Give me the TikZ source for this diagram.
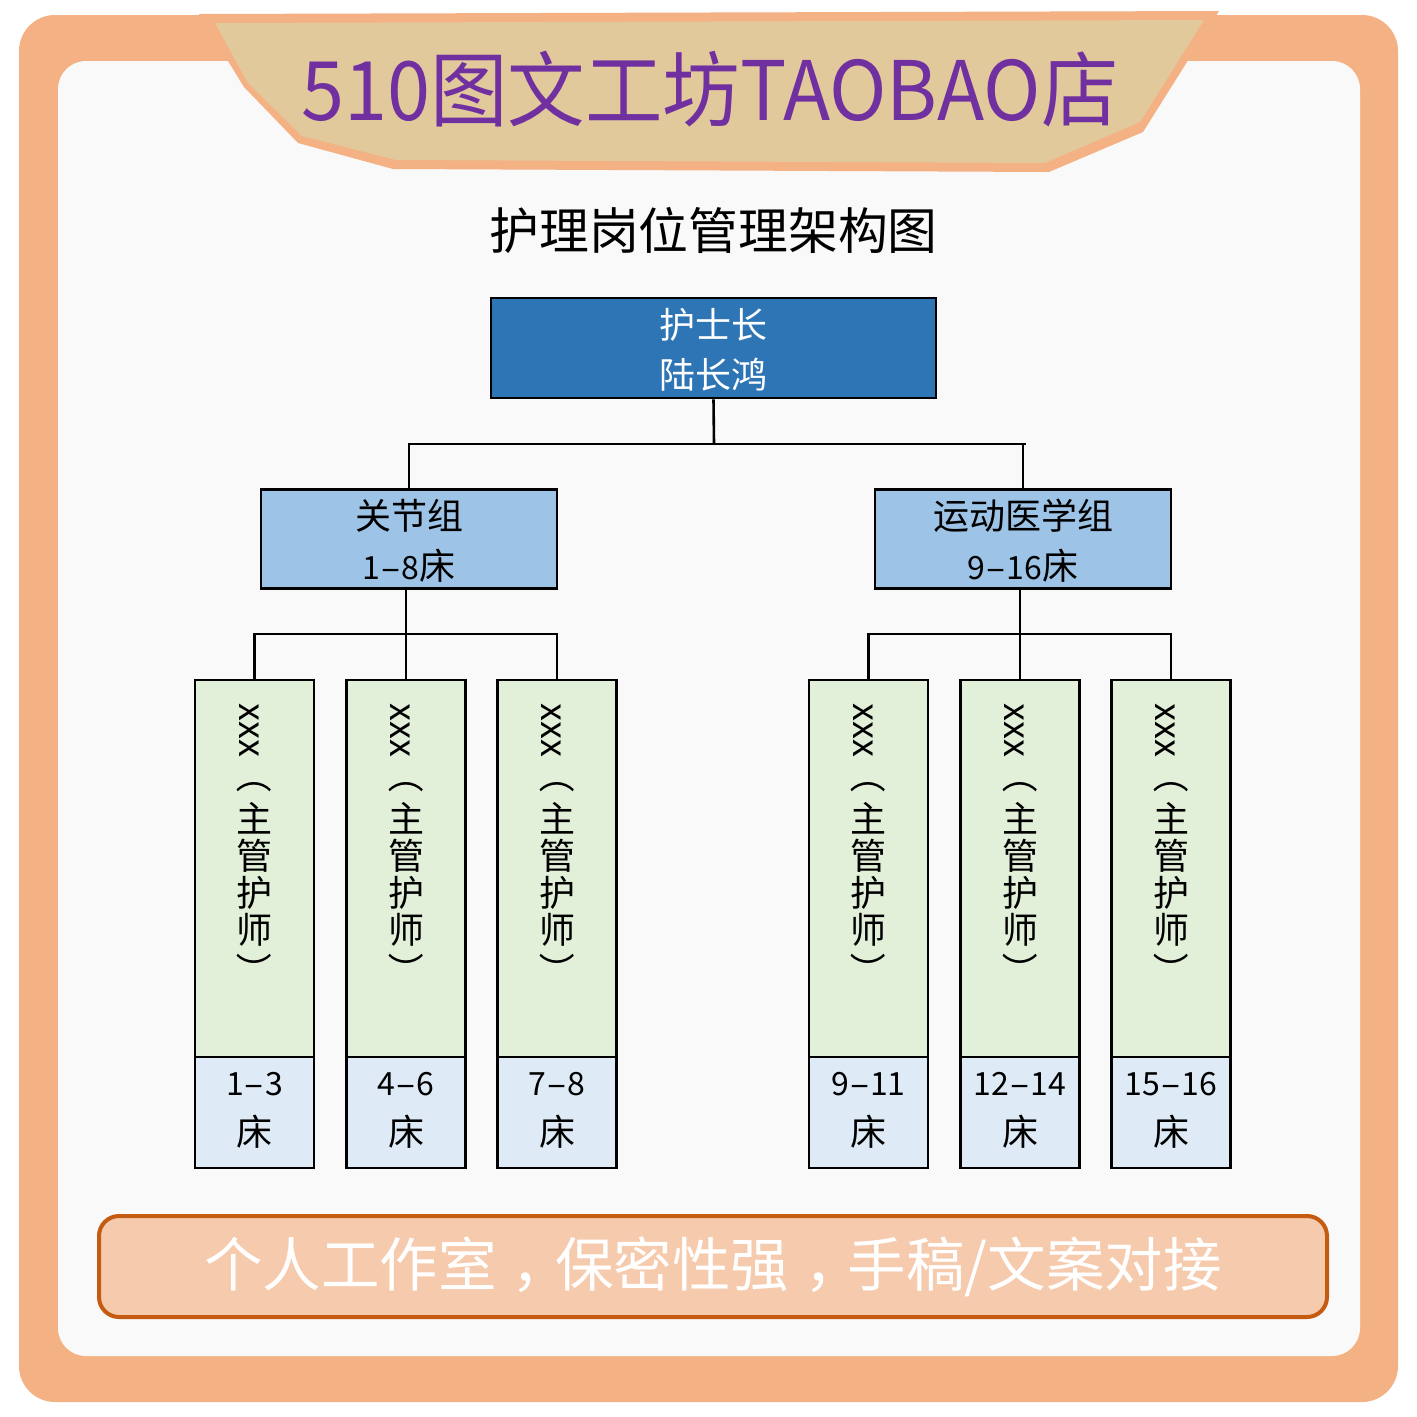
\documentclass[tikz,border=0pt]{standalone}
\usepackage{fontspec}
\usepackage{graphicx}
\setmainfont{Noto Sans CJK SC}
\newfontfamily\bannerfont[FakeStretch=0.945]{Noto Sans CJK SC}
\usetikzlibrary{positioning,calc}
\definecolor{frameC}{HTML}{F4B183}
\definecolor{paperC}{HTML}{F9F9F9}
\definecolor{tanC}{HTML}{E2C99C}
\definecolor{purpleC}{HTML}{7030A0}
\definecolor{blueC}{HTML}{2E75B6}
\definecolor{midC}{HTML}{9DC3E6}
\definecolor{greenC}{HTML}{E2F0D9}
\definecolor{paleC}{HTML}{DEEBF7}
\definecolor{noteC}{HTML}{F6CAAC}
\definecolor{noteL}{HTML}{C55A11}
\tikzset{
  boxbase/.style={draw=black,line width=2.6pt,inner sep=0pt,align=center,font=\fontsize{36}{50}\selectfont,text=black},
  headbox/.style={boxbase,fill=blueC,text=white,minimum width=445,minimum height=100},
  groupbox/.style={boxbase,fill=midC,minimum width=296,minimum height=99},
  namebox/.style={boxbase,fill=greenC,minimum width=119,minimum height=377},
  bedbox/.style={boxbase,fill=paleC,minimum width=119,minimum height=111},
  vlabel/.style={inner sep=0pt,align=center,anchor=north,font=\fontsize{36}{37}\selectfont,text=black},
  wire/.style={draw=black,line width=2.6pt},
}
\newcommand{\dg}[2]{{\fontsize{32}{50}\selectfont #1\scalebox{1.9}[1]{-}#2}}
\newcommand{\lowgap}{\rule{0pt}{34pt}}
\newcommand{\upgap}{\rule[-8pt]{0pt}{0pt}}
\newcommand{\vtxt}{\makebox[0pt]{\hspace{-11pt}\raisebox{-6pt}[37pt][0pt]{\rotatebox[origin=c]{-90}{xxx}}}\\[18pt]\rotatebox[origin=c]{-90}{（}\\[6pt]主\\管\\护\\师\\[4pt]\rotatebox[origin=c]{-90}{）}}
\begin{document}
\begin{tikzpicture}[x=1pt,y=-1pt]
\useasboundingbox (0,0) rectangle (1417,1417);
\fill[white] (0,0) rectangle (1417,1417);
\fill[frameC,rounded corners=36] (19,15) rectangle (1398,1402);
\fill[paperC,rounded corners=28] (58,61) rectangle (1360,1356);
\fill[frameC] (199,14) -- (1219,11) -- (1143,132) -- (1049,172) -- (393,169) -- (298,143) -- (244,87) -- cycle;
\fill[tanC] (215,23) -- (1204,20) -- (1140,122) -- (1045,163) -- (396,160) -- (302,136) -- (248,83) -- cycle;
\node[text=purpleC,font=\bannerfont\fontsize{82}{82}\selectfont,inner sep=0pt] (banner) at (710,89) {510图文工坊TAOBAO店};
\node[text=black,font=\fontsize{49.8}{50}\selectfont,inner sep=0pt] (title) at (713.5,230) {护理岗位管理架构图};

\node[headbox] (head) at (713.5,348) {\lowgap 护士长\\陆长鸿};
\node[groupbox] (gl) at (409,539) {\lowgap 关节组\\\dg{1}{8}床};
\node[groupbox] (gr) at (1023,539) {\lowgap 运动医学组\\\dg{9}{16}床};

\foreach \nm/\cx/\lo/\hi in {a/254.5/1/3,b/406/4/6,c/557/7/8,d/868.5/9/11,e/1020/12/14,f/1171/15/16}{
  \node[namebox] (n\nm) at (\cx,868.5) {};
  \node[bedbox] (b\nm) at (\cx,1112.5) {\dg{\lo}{\hi}\\床\upgap};
  \node[vlabel] (t\nm) at (\cx,697) {\vtxt};
}

\coordinate (jt) at (714,444);
\coordinate (busend) at (1026,444);
\coordinate (jl) at (406,634);
\coordinate (jr) at (1020,634);
\draw[wire] (head.south) -- (jt);
\draw[wire] (gl.north) |- (busend);
\draw[wire] (gr.north) -- (gr.north |- busend);
\draw[wire] (nb.north |- gl.south) -- (nb.north);
\draw[wire] (ne.north |- gr.south) -- (ne.north);
\draw[wire] (na.north) |- (jl) -| (nc.north);
\draw[wire] (nd.north) |- (jr) -| (nf.north);

\node[draw=noteL,line width=4pt,fill=noteC,rounded corners=20,minimum width=1228,minimum height=101,inner sep=0pt,text=white,font=\fontsize{58.5}{60}\selectfont] (note) at (713,1266.5) {个人工作室\kern15pt，\kern-15pt 保密性强\kern15pt，\kern-15pt 手稿/文案对接};
\end{tikzpicture}
\end{document}
